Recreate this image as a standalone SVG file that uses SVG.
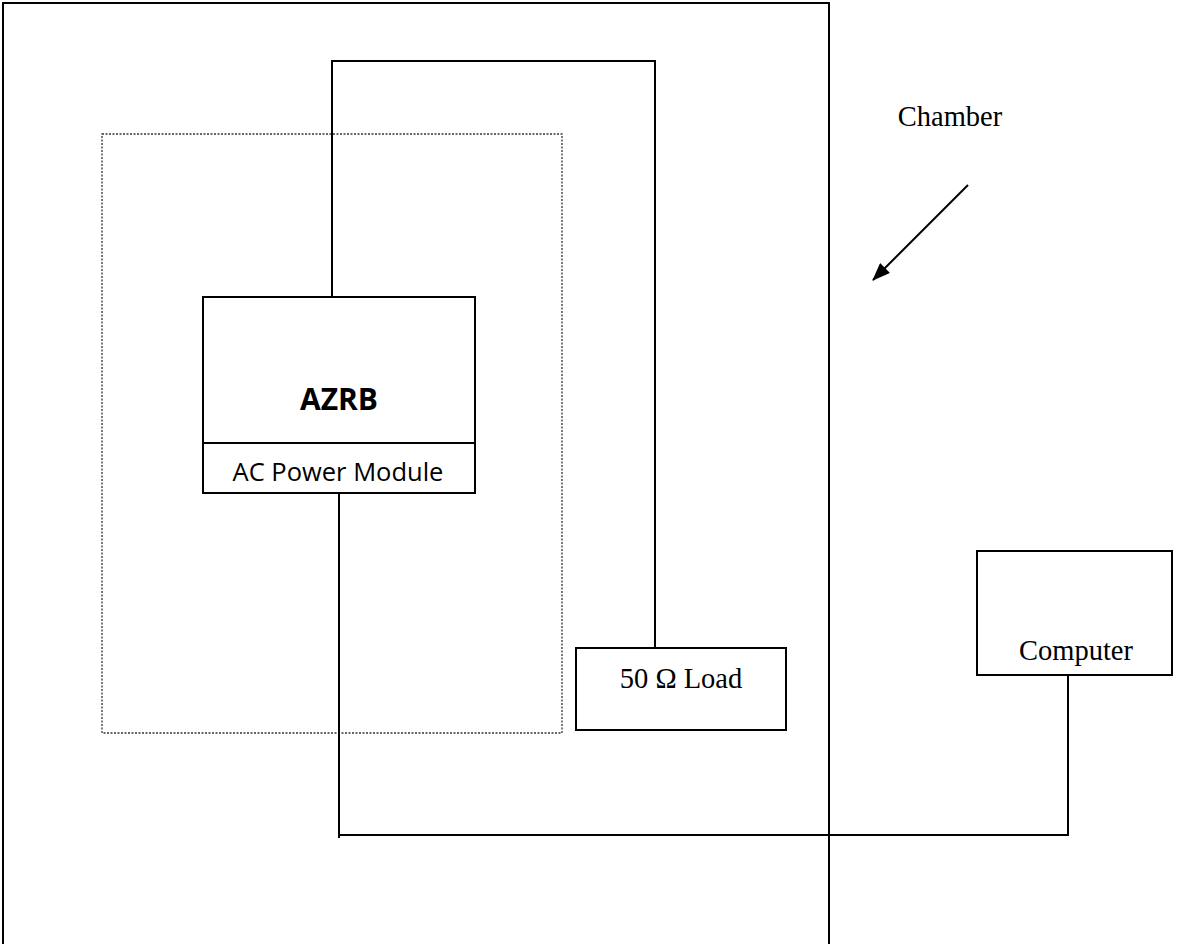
<svg xmlns="http://www.w3.org/2000/svg" width="1178" height="944" viewBox="0 0 1178 944">
<style>
.box{fill:#fff;stroke:#000;stroke-width:2}
.wire{fill:none;stroke:#000;stroke-width:2}
.serif{font-family:"Liberation Serif","Times New Roman",serif;font-size:28.5px;fill:#000}
.sans{font-family:"Open Sans","Liberation Sans",sans-serif;fill:#000}
</style>
<defs>
<marker id="arr" markerWidth="18" markerHeight="14" refX="17" refY="7" orient="auto" markerUnits="userSpaceOnUse" viewBox="0 0 18 14">
<path d="M0,0 L18,7 L0,14 z" fill="#000"/>
</marker>
</defs>
<rect width="1178" height="944" fill="#fff"/>
<g id="chamber">
<path d="M3,946 L3,3 L829,3 L829,946" class="wire"/>
</g>
<g id="enclosure">
<rect x="102" y="134" width="460" height="599" fill="none" stroke="#333" stroke-width="1.3" stroke-dasharray="2,1.5"/>
</g>
<g id="connectors">
<polyline class="wire" points="332,297 332,61 655,61 655,648"/>
<polyline class="wire" points="339,493 339,838"/>
<polyline class="wire" points="339,835 1068,835 1068,675"/>
<line x1="968" y1="185" x2="873" y2="280" stroke="#000" stroke-width="2" marker-end="url(#arr)"/>
</g>
<g id="azrb">
<rect x="203" y="297" width="272" height="196" class="box"/>
<line x1="203" y1="443" x2="475" y2="443" stroke="#000" stroke-width="2"/>
<text x="339" y="410" class="sans" font-size="30" font-weight="bold" text-anchor="middle">AZRB</text>
<text x="338" y="481" class="sans" font-size="25.5" text-anchor="middle">AC Power Module</text>
</g>
<g id="load">
<rect x="576" y="648" width="210" height="82" class="box"/>
<text x="681" y="688" class="serif" text-anchor="middle">50 Ω Load</text>
</g>
<g id="computer">
<rect x="977" y="551" width="195" height="124" class="box"/>
<text x="1076" y="660" class="serif" text-anchor="middle">Computer</text>
</g>
<g id="chamber-label">
<text x="950" y="126" class="serif" text-anchor="middle">Chamber</text>
</g>
</svg>
